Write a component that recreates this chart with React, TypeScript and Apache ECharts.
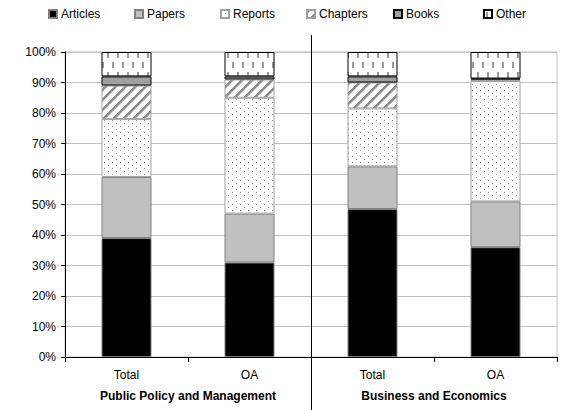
import React, { useEffect, useRef } from 'react';
import * as echarts from 'echarts';

const categories = ['Total', 'OA', 'Total', 'OA'];
const groups = ['Public Policy and Management', 'Business and Economics'];
const seriesNames = ['Articles', 'Papers', 'Reports', 'Chapters', 'Books', 'Other'];
const articles = [39, 31, 48.5, 36];
const papers = [20, 16, 14, 15];
const reports = [19, 38, 19, 39.5];
const chapters = [11, 6, 8.5, 0.5];
const books = [3, 1, 2, 0.3];
const other = [8, 8, 8, 8.7];
const yMin = 0;
const yMax = 100;
const yInterval = 10;
const legendLefts = [48, 134, 220, 306, 393, 483];

const FONT = '"Liberation Sans", Arial, sans-serif';

type Painter = (ctx: CanvasRenderingContext2D) => void;

function makePattern(w: number, h: number, paint: Painter) {
  const c = document.createElement('canvas');
  c.width = w;
  c.height = h;
  const ctx = c.getContext('2d')!;
  ctx.fillStyle = '#ffffff';
  ctx.fillRect(0, 0, w, h);
  paint(ctx);
  return { image: c, repeat: 'repeat', imageWidth: w, imageHeight: h };
}

function dotsPattern() {
  return makePattern(8, 6, (ctx) => {
    ctx.fillStyle = '#8c8c8c';
    ctx.fillRect(0, 0, 1, 1);
    ctx.fillRect(4, 3, 1, 1);
  });
}

function stripesPattern() {
  const s = 10;
  return makePattern(s, s, (ctx) => {
    const img = ctx.getImageData(0, 0, s, s);
    for (let y = 0; y < s; y++) {
      for (let x = 0; x < s; x++) {
        const k = (x + y) % s;
        let v = 255;
        if (k < 3) v = 140;
        else if (k === 3) v = 190;
        const i = (y * s + x) * 4;
        img.data[i] = v;
        img.data[i + 1] = v;
        img.data[i + 2] = v;
        img.data[i + 3] = 255;
      }
    }
    ctx.putImageData(img, 0, 0);
  });
}

function dashesPattern() {
  return makePattern(10, 20, (ctx) => {
    ctx.fillStyle = '#9a9a9a';
    ctx.fillRect(2, 2, 2, 6);
    ctx.fillRect(7, 12, 2, 6);
  });
}

export default function App() {
  const ref = useRef<HTMLDivElement>(null);
  useEffect(() => {
    if (!ref.current) return;
    const seriesData = [articles, papers, reports, chapters, books, other];
    const seriesStyles: any[] = [
      { color: '#000000', borderColor: '#808080', borderWidth: 1 },
      { color: '#c0c0c0', borderColor: '#808080', borderWidth: 1 },
      { color: dotsPattern(), borderColor: '#a0a0a0', borderWidth: 1 },
      { color: stripesPattern(), borderColor: '#a0a0a0', borderWidth: 1 },
      { color: '#a0a0a0', borderColor: '#000000', borderWidth: 1 },
      { color: dashesPattern(), borderColor: '#000000', borderWidth: 1 },
    ];
    const chart = echarts.init(ref.current, null, { renderer: 'svg' });
    chart.setOption({
      animation: false,
      textStyle: { fontFamily: FONT },
      legend: seriesNames.map((n, i) => ({
        data: [n],
        left: legendLefts[i],
        top: 8,
        itemWidth: 8,
        itemHeight: 8,
        itemGap: 0,
        icon: 'rect',
        padding: 0,
        selectedMode: false,
        textStyle: { fontSize: 12, color: '#000', fontFamily: FONT, padding: [0, 0, 0, -1] },
      })),
      grid: {
        left: 65,
        right: 13,
        top: 52,
        bottom: 53,
        show: true,
        borderColor: '#c0c0c0',
        borderWidth: 1,
        backgroundColor: 'rgba(0,0,0,0)',
      },
      xAxis: [
        {
          type: 'category',
          data: categories,
          axisLine: { show: true, lineStyle: { color: '#000', width: 1 } },
          axisTick: { show: true, alignWithLabel: false, length: 5, lineStyle: { color: '#000' } },
          axisLabel: { color: '#000', fontSize: 12, margin: 12, fontFamily: FONT },
          splitLine: { show: false },
        },
        {
          type: 'category',
          data: groups,
          position: 'bottom',
          axisLine: { show: false },
          axisTick: { show: false },
          axisLabel: { color: '#000', fontSize: 12, fontWeight: 'bold', margin: 33, fontFamily: FONT },
          splitLine: { show: false },
        },
      ],
      yAxis: {
        type: 'value',
        min: yMin,
        max: yMax,
        interval: yInterval,
        axisLine: { show: true, lineStyle: { color: '#000', width: 1 } },
        axisTick: { show: true, length: 4, lineStyle: { color: '#000' } },
        axisLabel: { color: '#000', fontSize: 12, margin: 9, formatter: '{value}%', fontFamily: FONT },
        splitLine: { show: true, lineStyle: { color: '#c0c0c0', width: 1 } },
      },
      series: seriesNames.map((n, i) => ({
        name: n,
        type: 'bar',
        stack: 'all',
        xAxisIndex: 0,
        barWidth: 50,
        data: seriesData[i],
        itemStyle: seriesStyles[i],
        emphasis: { disabled: true },
      })),
    });
    const x1 = chart.convertToPixel({ xAxisIndex: 0 }, 1) as number;
    const x2 = chart.convertToPixel({ xAxisIndex: 0 }, 2) as number;
    const xd = Math.round((x1 + x2) / 2) + 0.5;
    chart.setOption({
      graphic: [
        {
          type: 'line',
          shape: { x1: xd, y1: 35, x2: xd, y2: 410 },
          style: { stroke: '#000', lineWidth: 1 },
          z: 100,
        },
      ],
    });
    return () => chart.dispose();
  }, []);
  return (
    <div
      ref={ref}
      style={{ position: 'fixed', left: 0, top: 0, width: 570, height: 410, background: '#fff' }}
    />
  );
}
